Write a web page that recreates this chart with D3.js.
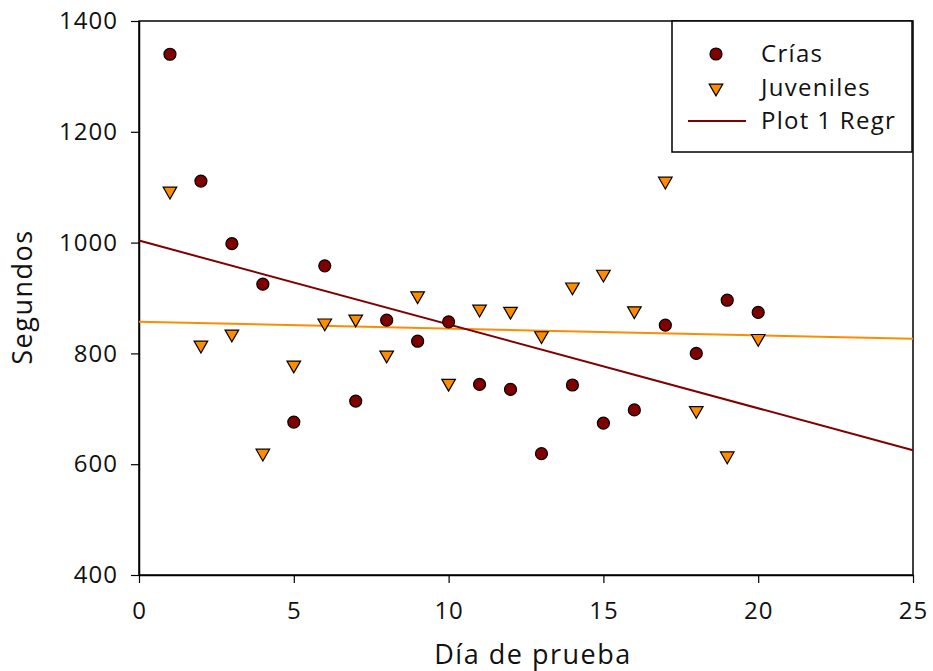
<!DOCTYPE html>
<html><head><meta charset="utf-8">
<script src="https://cdn.jsdelivr.net/npm/d3@7"></script>
<style>body{margin:0;background:#fff;} text{font-family:"Open Sans",sans-serif;}</style>
</head><body><svg id="c" width="933" height="671"></svg>
<script>
const days = [1,2,3,4,5,6,7,8,9,10,11,12,13,14,15,16,17,18,19,20];
const crias = [1340,1111,998,925,676,958,714,860,822,857,744,735,619,743,674,698,851,800,896,874];
const juveniles = [1093,815,835,620,779,855,862,797,904,746,880,876,832,920,943,877,1111,697,615,827];
const xTicks = [0,5,10,15,20,25];
const yTicks = [400,600,800,1000,1200,1400];
const legendLabels = ["Crías","Juveniles","Plot 1 Regr"];

const dark = "#800000", orange = "#ff8c00";
const svg = d3.select("#c");
const L=139,R=913,T=21,B=575;
const x = d3.scaleLinear().domain([0,25]).range([L,R]);
const y = d3.scaleLinear().domain([400,1400]).range([B,T]);

function regr(xs, ys){
  const mx=d3.mean(xs), my=d3.mean(ys);
  let sxy=0,sxx=0; xs.forEach((v,i)=>{sxy+=(v-mx)*(ys[i]-my); sxx+=(v-mx)*(v-mx);});
  const b=sxy/sxx; return {b, a: my-b*mx};
}

svg.append("rect").attr("x",L).attr("y",T).attr("width",R-L).attr("height",B-T)
  .attr("fill","none").attr("stroke","#000").attr("stroke-width",1.5);

const xa = svg.append("g").attr("transform",`translate(0,${B})`)
  .call(d3.axisBottom(x).tickValues(xTicks).tickFormat(d3.format("d")).tickSize(8).tickPadding(19).tickSizeOuter(0));
const ya = svg.append("g").attr("transform",`translate(${L},0)`)
  .call(d3.axisLeft(y).tickValues(yTicks).tickFormat(d3.format("d")).tickSize(8).tickPadding(13).tickSizeOuter(0));
[xa,ya].forEach(g=>{
  g.select(".domain").attr("stroke","#000").attr("stroke-width",1.5);
  g.selectAll(".tick line").attr("stroke","#000").attr("stroke-width",1.2);
  g.selectAll(".tick text").attr("fill","#111").style("font-size","24px").style("letter-spacing","1px")
   .style("font-family","'Open Sans',sans-serif");
});

const rc = regr(days,crias), rj = regr(days,juveniles);
const line = d3.line().x(d=>x(d[0])).y(d=>y(d[1]));
svg.append("path").attr("d",line([[0,rj.a],[25,rj.a+rj.b*25]])).attr("stroke",orange).attr("stroke-width",2).attr("fill","none");
svg.append("path").attr("d",line([[0,rc.a],[25,rc.a+rc.b*25]])).attr("stroke",dark).attr("stroke-width",2).attr("fill","none");

const tri = d3.symbol().type(d3.symbolTriangle).size(80);
svg.append("g").selectAll("path").data(days).join("path")
  .attr("d",tri).attr("transform",(d,i)=>`translate(${x(d)},${y(juveniles[i])}) rotate(180)`)
  .attr("fill",orange).attr("stroke","#000").attr("stroke-width",1.2);
svg.append("g").selectAll("circle").data(days).join("circle")
  .attr("cx",d=>x(d)).attr("cy",(d,i)=>y(crias[i])).attr("r",6)
  .attr("fill",dark).attr("stroke","#000").attr("stroke-width",1.2);

svg.append("text").attr("x",533).attr("y",664).attr("text-anchor","middle")
  .style("font-size","27px").style("letter-spacing","1.5px").attr("fill","#111").text("Día de prueba");
svg.append("text").attr("transform",`translate(32,297) rotate(-90)`).attr("text-anchor","middle")
  .style("font-size","27px").style("letter-spacing","1.5px").attr("fill","#111").text("Segundos");

const lg = svg.append("g");
lg.append("rect").attr("x",672).attr("y",21).attr("width",240).attr("height",131)
  .attr("fill","#fff").attr("stroke","#000").attr("stroke-width",1.5);
lg.append("circle").attr("cx",716).attr("cy",54).attr("r",6).attr("fill",dark).attr("stroke","#000").attr("stroke-width",1.2);
lg.append("path").attr("d",tri).attr("transform","translate(716,88) rotate(180)").attr("fill",orange).attr("stroke","#000").attr("stroke-width",1.2);
lg.append("line").attr("x1",688).attr("x2",746).attr("y1",121).attr("y2",121).attr("stroke",dark).attr("stroke-width",2);
legendLabels.forEach((t,i)=>{
  lg.append("text").attr("x",761).attr("y",54+i*33.5).attr("dy","0.35em").style("font-size","24px")
    .style("letter-spacing","1.3px").attr("fill","#111").text(t);
});
</script></body></html>
